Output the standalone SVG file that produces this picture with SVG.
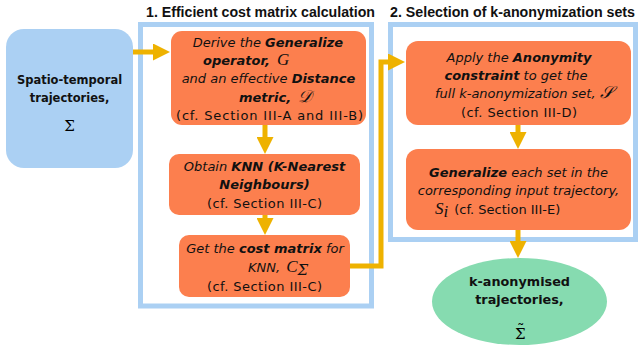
<svg xmlns="http://www.w3.org/2000/svg" width="639" height="347" viewBox="0 0 639 347">
<defs>
<style>
.title{font-family:"Liberation Sans",Arial,sans-serif;font-weight:bold;font-size:14px;fill:#111}
.frame{fill:none;stroke:#abd0f3;stroke-width:5}
.step{fill:#fc7f4e}
.t{font-family:"DejaVu Sans",Verdana,sans-serif;font-size:13px;fill:#111}
.it{font-style:italic}
.b{font-weight:bold}
.m{font-family:"Liberation Serif","DejaVu Serif",serif;font-style:italic;font-size:17px}
.ms{font-family:"DejaVu Serif","Liberation Serif",serif;font-size:15px}
.lb{font-family:"DejaVu Sans",Verdana,sans-serif;font-weight:bold;font-size:11.5px;fill:#111}
.gb{font-family:"DejaVu Sans",Verdana,sans-serif;font-weight:bold;font-size:12.8px;fill:#111}
.arr{fill:none;stroke:#eeb200;stroke-width:5}
</style>
<marker id="ah" markerUnits="userSpaceOnUse" viewBox="0 0 17 17" refX="7" refY="8.5" markerWidth="17" markerHeight="17" orient="auto">
<path d="M0,0 L17,8.5 L0,17 Z" fill="#eeb200"/>
</marker>
</defs>
<rect width="639" height="347" fill="#fff"/>
<g id="frames">
<rect class="frame" x="140.5" y="24.5" width="231" height="281.5"/>
<rect class="frame" x="390.5" y="24.5" width="245" height="215"/>
<text class="title" x="146" y="17" textLength="229" lengthAdjust="spacingAndGlyphs">1. Efficient cost matrix calculation</text>
<text class="title" x="390" y="17" textLength="245" lengthAdjust="spacingAndGlyphs">2. Selection of k-anonymization sets</text>
</g>
<g id="connectors">
<path class="arr" d="M133,52 H160" marker-end="url(#ah)"/>
<path class="arr" d="M265,125 V144" marker-end="url(#ah)"/>
<path class="arr" d="M265,215 V225" marker-end="url(#ah)"/>
<path class="arr" d="M350,266 H381 V62 H395" marker-end="url(#ah)"/>
<path class="arr" d="M518,125 V139" marker-end="url(#ah)"/>
<path class="arr" d="M518,230 V248" marker-end="url(#ah)"/>
</g>
<g id="input">
<rect x="6" y="29" width="127" height="139" rx="18" fill="#abd0f3"/>
<text class="lb" x="69.5" y="84" text-anchor="middle">Spatio-temporal</text>
<text class="lb" x="69.5" y="102" text-anchor="middle">trajectories,</text>
<text class="ms" x="69.5" y="131" text-anchor="middle">Σ</text>
</g>
<g id="derive">
<rect class="step" x="171" y="31" width="195" height="94" rx="11"/>
<text class="t it" x="268" y="47" text-anchor="middle">Derive the <tspan class="b">Generalize</tspan></text>
<text class="t it" x="203" y="65"><tspan class="b">operator,</tspan> <tspan class="m" dx="3">G</tspan></text>
<text class="t it" x="268.5" y="83" text-anchor="middle">and an effective <tspan class="b">Distance</tspan></text>
<text class="t it" x="239" y="102"><tspan class="b">metric,</tspan> <tspan class="m" dx="3">𝒟</tspan></text>
<text class="t" x="176" y="120" textLength="187" lengthAdjust="spacing">(cf. Section III-A and III-B)</text>
</g>
<g id="knn">
<rect class="step" x="169" y="154" width="191" height="61" rx="10"/>
<text class="t it" x="264.5" y="171" text-anchor="middle">Obtain <tspan class="b">KNN (K-Nearest</tspan></text>
<text class="t it b" x="264.5" y="189" text-anchor="middle">Neighbours)</text>
<text class="t" x="207" y="208" textLength="115" lengthAdjust="spacing">(cf. Section III-C)</text>
</g>
<g id="cost">
<rect class="step" x="179" y="235" width="171" height="62" rx="10"/>
<text class="t it" x="265" y="253" text-anchor="middle">Get the <tspan class="b">cost matrix</tspan> for</text>
<text class="t it" x="248" y="272">KNN, <tspan class="m" dx="2">C</tspan><tspan class="ms" font-size="11" dy="3">Σ</tspan></text>
<text class="t" x="207" y="291" textLength="115" lengthAdjust="spacing">(cf. Section III-C)</text>
</g>
<g id="anon">
<rect class="step" x="406" y="41" width="225" height="84" rx="12"/>
<text class="t it" x="519" y="62" text-anchor="middle">Apply the <tspan class="b">Anonymity</tspan></text>
<text class="t it" x="516" y="80" text-anchor="middle"><tspan class="b">constraint</tspan> to get the</text>
<text class="t it" x="435" y="98">full k-anonymization set, <tspan class="m">𝒮</tspan></text>
<text class="t" x="461" y="117" textLength="116" lengthAdjust="spacing">(cf. Section III-D)</text>
</g>
<g id="generalize">
<rect class="step" x="406" y="149" width="225" height="81" rx="12"/>
<text class="t it" x="518.5" y="177" text-anchor="middle"><tspan class="b">Generalize</tspan> each set in the</text>
<text class="t it" x="518.5" y="195" text-anchor="middle">corresponding input trajectory,</text>
<text class="t" x="435" y="214"><tspan class="m">S</tspan><tspan class="m" font-size="11" dy="3">i</tspan><tspan dx="6" dy="-3">(cf. Section III-E)</tspan></text>
</g>
<g id="output">
<ellipse cx="519.5" cy="301.5" rx="87.5" ry="43.5" fill="#86dbb0"/>
<text class="gb" x="519.5" y="286" text-anchor="middle">k-anonymised</text>
<text class="gb" x="519.5" y="304" text-anchor="middle">trajectories,</text>
<text class="ms" x="515" y="339" font-size="14">Σ<tspan dx="-8.5" dy="-4">˜</tspan></text>
</g>
</svg>
